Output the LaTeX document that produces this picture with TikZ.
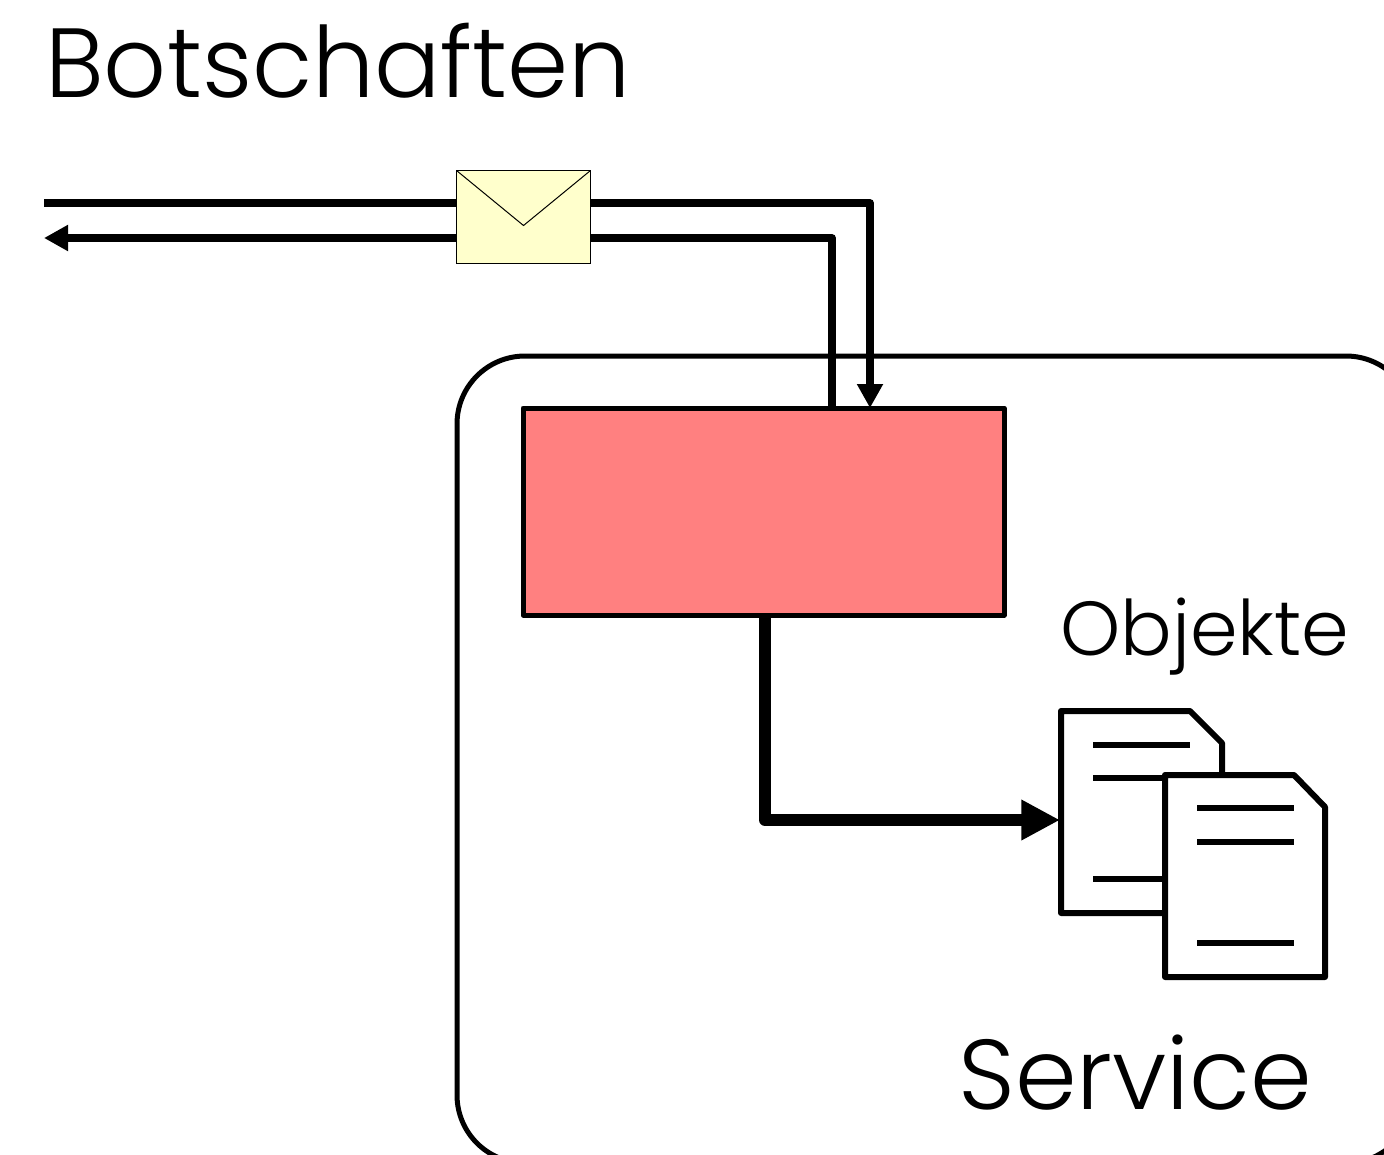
\documentclass[tikz,border=0pt]{standalone}
\usepackage{fontspec}
\setmainfont{Poppins}[UprightFont=* Light]
\usetikzlibrary{arrows.meta}
\definecolor{envfill}{HTML}{FFFFCC}
\definecolor{boxfill}{HTML}{FF8080}
\tikzset{
	line/.style={line width=5.6pt,line join=round},
	tip/.style={-{Triangle[length=18pt,width=18.5pt]}},
	page/.style={draw,line width=4.5pt,line join=round,fill=white},
	rule/.style={line width=5pt},
	label/.style={anchor=base west,inner sep=0}
}
\begin{document}
\begin{tikzpicture}[x=0.75pt,y=-0.75pt]
	\useasboundingbox (0,0) rectangle (1384,1154);
	% service frame
	\begin{scope}
	\clip (0,0) rectangle (1384,1154);
	\draw[line width=3.75pt,rounded corners=51pt] (457,356) rectangle (1414,1163);
	\end{scope}

	\node[label,font=\fontsize{73.7}{74}\selectfont] (title) at (45,97) {Botschaften};
	\node[label,font=\fontsize{57.4}{58}\selectfont] (objects) at (1060,655) {Objekte};
	\node[label,font=\fontsize{74.4}{75}\selectfont] (service) at (958,1109) {Service};

	\node[draw,line width=3.75pt,line join=round,fill=boxfill,minimum width=360.75pt,minimum height=155.25pt,inner sep=0,outer sep=0,anchor=north west] (handler) at (523,408) {};

	% message lines
	\coordinate (inleft) at (44,203);
	\coordinate (outleft) at (44,238);
	\coordinate (intop) at (870,203);
	\coordinate (outtop) at (832,238);
	\coordinate (envleft) at (457,238);
	\draw[line] (outtop |- handler.north) -- (outtop) -- (envleft);
	\draw[line,tip] (envleft) -- (outleft);
	\draw[line,tip] (inleft) -- (intop) -- (intop |- handler.north);

	\node[draw,line width=0.75pt,fill=envfill,minimum width=100.5pt,minimum height=69.75pt,inner sep=0,outer sep=0,anchor=north west] (envelope) at (456.5,170.5) {};
	\draw[line width=0.75pt] (envelope.north west) -- (523.5,225.5) -- (envelope.north east);

	% objects
	\draw[page] (1061,711) -- (1190,711) -- (1222,743) -- (1222,913) -- (1061,913) -- cycle;
	\foreach \y in {745,778,879}
		\draw[rule] (1093,\y) -- (1190,\y);
	\draw[page] (1165,775) -- (1294,775) -- (1325,807) -- (1325,977) -- (1165,977) -- cycle;
	\foreach \y in {808,842,943}
		\draw[rule] (1197,\y) -- (1294,\y);
	\coordinate (pageleft) at (1060,820);
	\coordinate (handlerout) at (765,408 |- handler.south);
	\draw[line width=9pt,line join=round,-{Triangle[length=29pt,width=28.5pt]}] (handlerout) -- (765,820) -- (pageleft);
\end{tikzpicture}
\end{document}
